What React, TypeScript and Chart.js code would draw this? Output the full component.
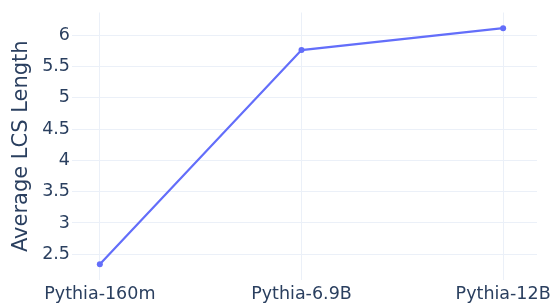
import React, { useEffect, useRef } from "react";
import { Chart, registerables } from "chart.js";

Chart.register(...registerables);

const categories = ["Pythia-160m", "Pythia-6.9B", "Pythia-12B"];
const lcsValues = [2.34, 5.76, 6.11];
const yTicks = [2.5, 3, 3.5, 4, 4.5, 5, 5.5, 6];

const FONT = "'DejaVu Sans', Verdana, sans-serif";
const TEXT = "#2a3f5f";
const GRID = "#ebf0f8";

export default function App() {
  const ref = useRef<HTMLCanvasElement | null>(null);
  useEffect(() => {
    document.body.style.margin = "0";
    const ctx = ref.current!;
    const chart = new Chart(ctx, {
      type: "line",
      data: {
        datasets: [
          {
            data: lcsValues.map((v, i) => ({ x: i, y: v })),
            borderColor: "#636efa",
            backgroundColor: "#636efa",
            borderWidth: 2.2,
            pointRadius: 3,
            pointBorderWidth: 0,
            pointHoverRadius: 3,
            tension: 0,
          },
        ],
      },
      options: {
        animation: false,
        responsive: false,
        maintainAspectRatio: false,
        layout: { padding: { top: 10, right: 20, left: 0, bottom: 0 } },
        plugins: { legend: { display: false }, tooltip: { enabled: false } },
        scales: {
          x: {
            type: "linear",
            min: -0.138,
            max: 2.168,
            afterBuildTicks: (s: any) => {
              s.ticks = categories.map((_, i) => ({ value: i }));
            },
            afterFit: (s: any) => {
              s.height = 25;
            },
            ticks: {
              autoSkip: false,
              maxRotation: 0,
              padding: 4,
              color: TEXT,
              font: { family: FONT, size: 17.5 },
              callback: (v: any) => categories[v as number] ?? "",
            },
            grid: { color: GRID, drawTicks: false, lineWidth: 1 },
            border: { display: false },
          },
          y: {
            type: "linear",
            min: 2.09,
            max: 6.36,
            afterBuildTicks: (s: any) => {
              s.ticks = yTicks.map((v) => ({ value: v }));
            },
            afterFit: (s: any) => {
              s.width = 72;
            },
            ticks: {
              padding: 2,
              color: TEXT,
              font: { family: FONT, size: 17.5 },
              callback: (v: any) => String(v),
            },
            grid: { color: GRID, drawTicks: false, lineWidth: 1 },
            border: { display: false },
            title: {
              display: true,
              text: "Average LCS Length",
              color: TEXT,
              font: { family: FONT, size: 21 },
              padding: { top: 9, bottom: 0 },
            },
          },
        },
      },
    });
    return () => chart.destroy();
  }, []);
  return (
    <div style={{ position: "absolute", left: 0, top: 0, width: 557, height: 305, background: "#fff" }}>
      <canvas ref={ref} width={557} height={305} style={{ width: 557, height: 305 }} />
    </div>
  );
}
